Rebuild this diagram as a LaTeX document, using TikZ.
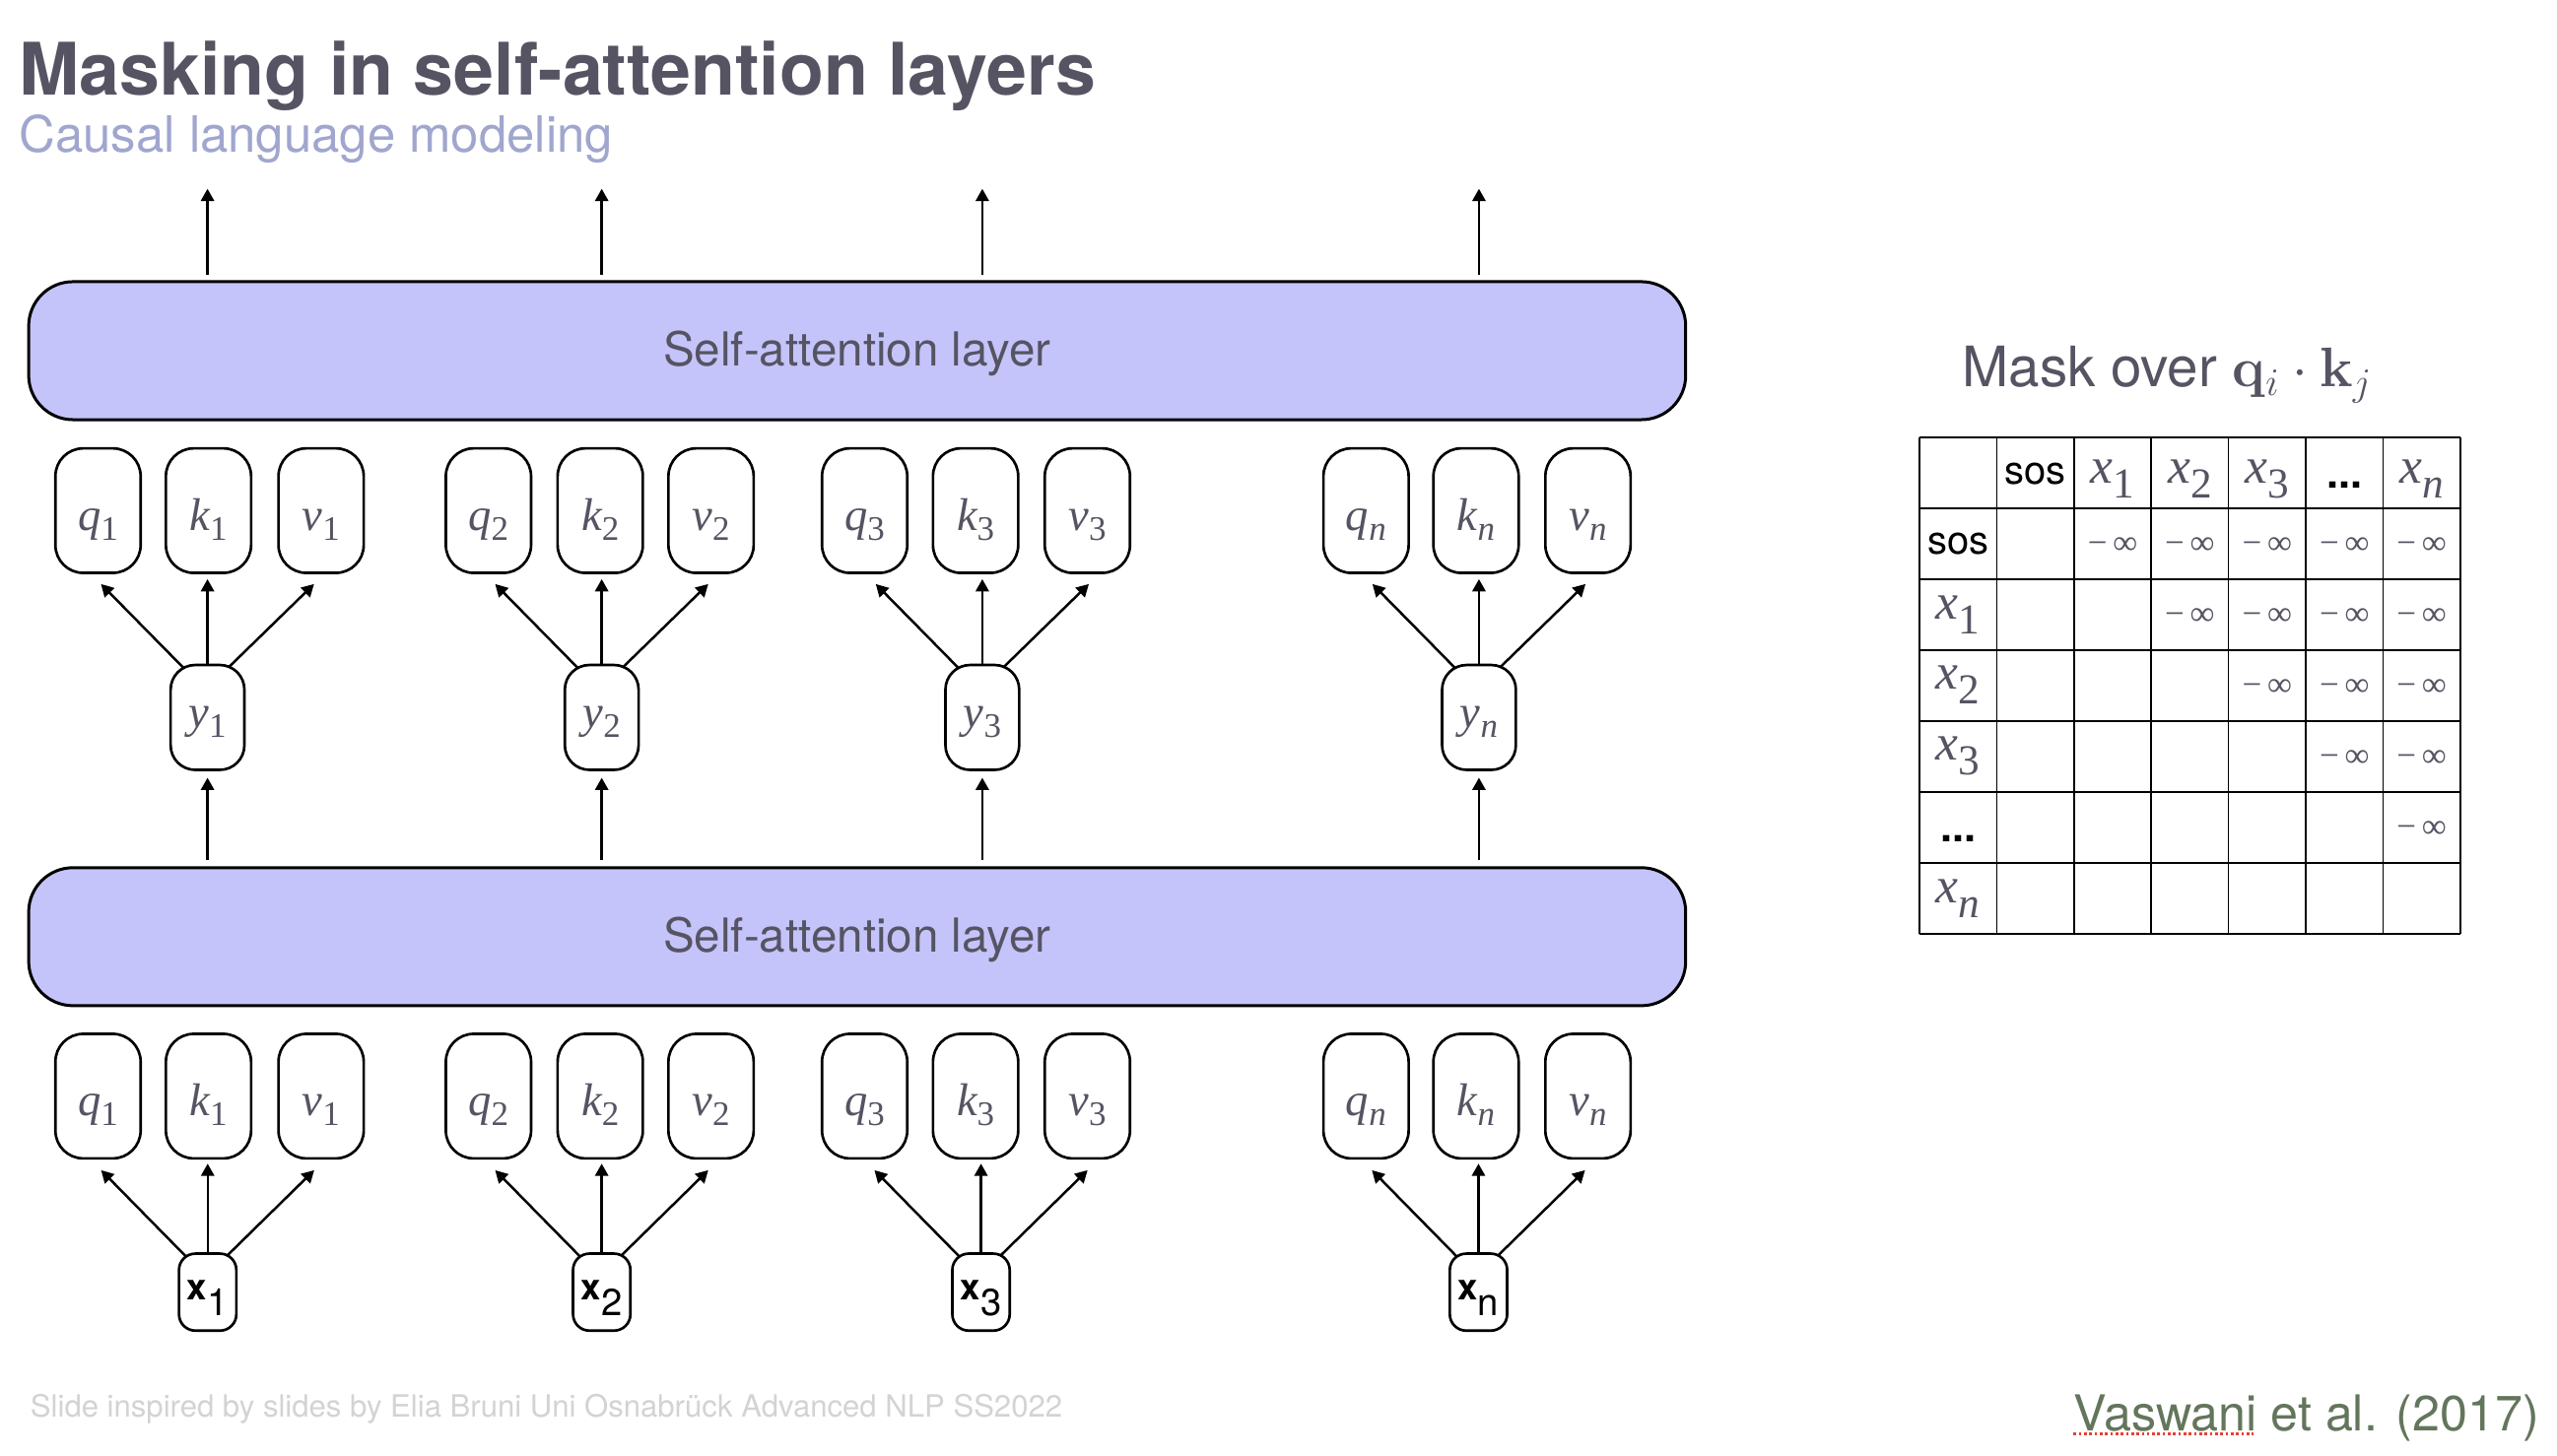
\RequirePackage{fix-cm}
\documentclass[tikz,border=0pt]{standalone}
\usepackage[no-math]{fontspec}
\setmainfont{TeX Gyre Heros}
\newfontfamily\mserif{Liberation Serif}
\usetikzlibrary{arrows.meta,calc}
\definecolor{txtgray}{RGB}{86,84,99}
\definecolor{subcol}{RGB}{160,166,206}
\definecolor{layerfill}{RGB}{196,196,250}
\definecolor{footgray}{RGB}{211,211,211}
\definecolor{refgreen}{RGB}{99,118,92}
\definecolor{spellred}{RGB}{232,64,52}
\tikzset{
  qkv/.style={draw, line width=1.6pt, rounded corners=17pt, minimum width=52pt, minimum height=76pt,
    inner sep=0pt, text height=30pt, text depth=6pt, text=txtgray},
  ynode/.style={draw, line width=1.6pt, rounded corners=15pt, minimum width=45pt, minimum height=64pt,
    inner sep=0pt, text height=18pt, text depth=6pt, text=txtgray},
  xnode/.style={draw, line width=1.6pt, rounded corners=10pt, minimum width=35pt, minimum height=47pt,
    inner sep=0pt, text height=19pt, text depth=10pt},
  layer/.style={draw, line width=1.8pt, fill=layerfill, rounded corners=27pt, minimum width=1010.9pt,
    minimum height=84.2pt, inner sep=0pt, text height=21pt, text depth=2pt,
    font=\fontsize{28.6}{30}\selectfont, text=txtgray},
  arr/.style={line width=1.5pt, -{Triangle[length=7.5pt,width=8pt]}},
  tab/.style={line width=1pt, black},
  sostxt/.style={anchor=base, inner sep=0pt, font=\fontsize{24}{26}\selectfont, text=black},
  dotstxt/.style={anchor=base, inner sep=0pt, font=\fontsize{26}{26}\selectfont\bfseries, text=black},
  xtxt/.style={anchor=base, inner sep=0pt, text=txtgray},
  inftxt/.style={anchor=center, inner sep=0pt, font=\fontsize{21}{21}\mserif, text=txtgray},
}
% variable with subscript, serif
\newcommand\lab[2]{{\fontsize{28}{28}\mserif\itshape #1}{\fontsize{21}{21}\mserif\raisebox{-6pt}{#2}}}
\newcommand\tlab[1]{{\fontsize{31}{31}\mserif\itshape x}{\fontsize{26}{26}\mserif\raisebox{-9pt}{#1}}}
\newcommand\xlab[1]{{\fontsize{22}{22}\selectfont\bfseries x}{\fontsize{23}{23}\selectfont\raisebox{-10pt}{#1}}}
\begin{document}
\begin{tikzpicture}[x=1pt,y=-1pt]
\fill[white] (0,0) rectangle (1560,888.5);
\useasboundingbox (0,0) rectangle (1560,888.5);

% titles
\node[anchor=base west, inner sep=0pt, font=\fontsize{44.2}{50}\selectfont\bfseries, text=txtgray] (title) at (11.5,58) {Masking in self-attention layers};
\node[anchor=base west, inner sep=0pt, font=\fontsize{30.6}{34}\selectfont, text=subcol] (subtitle) at (11.5,93) {Causal language modeling};

% layers
\node[layer] (L2) at (522.95,214) {Self-attention layer};
\node[layer] (L1) at (522.95,571.6) {Self-attention layer};

% groups
\foreach \g/\sb/\yx/\qx/\kx/\vx/\xx in {1/1/126.6/59.8/127.2/195.9/126.7, 2/2/367.1/298/366.2/433.8/367.1, 3/3/599.3/527.5/595.2/663.4/598.5, n/{\itshape n}/902.3/833.4/900.5/968.8/902}{
  % upper row
  \node[qkv] (qu\g) at (\qx,311.6) {\lab{q}{\sb}};
  \node[qkv] (ku\g) at (\kx,311.6) {\lab{k}{\sb}};
  \node[qkv] (vu\g) at (\vx,311.6) {\lab{v}{\sb}};
  \node[ynode] (y\g) at (\yx,437.8) {\lab{y}{\sb}};
  % lower row
  \node[qkv] (ql\g) at (\qx,668.9) {\lab{q}{\sb}};
  \node[qkv] (kl\g) at (\kx,668.9) {\lab{k}{\sb}};
  \node[qkv] (vl\g) at (\vx,668.9) {\lab{v}{\sb}};
  \node[xnode] (x\g) at (\xx,788.5) {\xlab{\g}};
  \coordinate (o\g) at (\yx,115.2);
  % output arrows
  \draw[arr] ($(L2.north -| o\g)+(0,-3)$) -- (o\g);
  % layer -> y
  \draw[arr] ($(L1.north -| y\g.center)+(0,-4)$) -- ($(y\g.south)+(0,4)$);
  % y -> q,k,v
  \draw[arr] ($(y\g.center)+(-14.4,-30)$) -- ($(qu\g.south -| y\g.center)+(-65,6)$);
  \draw[arr] (y\g.north) -- ($(ku\g.south -| y\g.north)+(0,3)$);
  \draw[arr] ($(y\g.center)+(12.7,-30.4)$) -- ($(vu\g.south -| y\g.center)+(65,6)$);
  % x -> q,k,v
  \draw[arr] ($(x\g.center)+(-13.5,-22)$) -- ($(ql\g.south -| x\g.center)+(-65,6.4)$);
  \draw[arr] (x\g.north) -- ($(kl\g.south -| x\g.north)+(0,2.4)$);
  \draw[arr] ($(x\g.center)+(11.6,-22)$) -- ($(vl\g.south -| x\g.center)+(65,6.4)$);
}

% mask title
\node[anchor=base west, inner sep=0pt, font=\fontsize{34}{38}\selectfont, text=txtgray] (masktitle) at (1197,236) {Mask over $\mathbf{q}_i\cdot\mathbf{k}_j$};

% table grid
\foreach \i in {0,...,7}{
  \draw[tab] ({1171+47.14*\i},267.1) -- ({1171+47.14*\i},569.9);
  \draw[tab] (1171,{267.1+43.26*\i}) -- (1501,{267.1+43.26*\i});
}
% header row
\node[sostxt] (hsos) at (1241.7,295.5) {sos};
\node[xtxt] (hx1) at (1288.9,294.6) {\tlab{1}};
\node[xtxt] (hx2) at (1336.0,294.6) {\tlab{2}};
\node[xtxt] (hx3) at (1383.2,294.6) {\tlab{3}};
\node[dotstxt] (hdots) at (1430.3,298) {...};
\node[xtxt] (hxn) at (1477.4,294.6) {\tlab{\itshape n}};
% row labels
\node[sostxt] (rsos) at (1194.6,338.1) {sos};
\node[xtxt] (rx1) at (1194.6,378) {\tlab{1}};
\node[xtxt] (rx2) at (1194.6,420.4) {\tlab{2}};
\node[xtxt] (rx3) at (1194.6,463.9) {\tlab{3}};
\node[dotstxt] (rdots) at (1194.6,513.8) {...};
\node[xtxt] (rxn) at (1194.6,551.2) {\tlab{\itshape n}};
% -inf entries
\foreach \r in {1,...,5}{
  \pgfmathtruncatemacro\s{\r+1}
  \foreach \c in {\s,...,6}{
    \node[inftxt] (m\r\c) at ({1171+47.14*(\c+0.5)},{267.1+43.26*(\r+0.5)+1}) {−\,∞};
  }
}

% footer and reference
\node[anchor=base west, inner sep=0pt, font=\fontsize{18.7}{20}\selectfont, text=footgray] (footer) at (18.4,864.6) {Slide inspired by slides by Elia Bruni Uni Osnabrück Advanced NLP SS2022};
\node[anchor=base west, inner sep=0pt, font=\fontsize{30.2}{34}\selectfont, text=refgreen] (vas) at (1265,873) {Vaswani et al. (2017)};
\draw[spellred, line width=1.3pt, dash pattern=on 1.6pt off 1.6pt] ([yshift=-2pt]vas.base west) -- ++(110,0);
\end{tikzpicture}
\end{document}
